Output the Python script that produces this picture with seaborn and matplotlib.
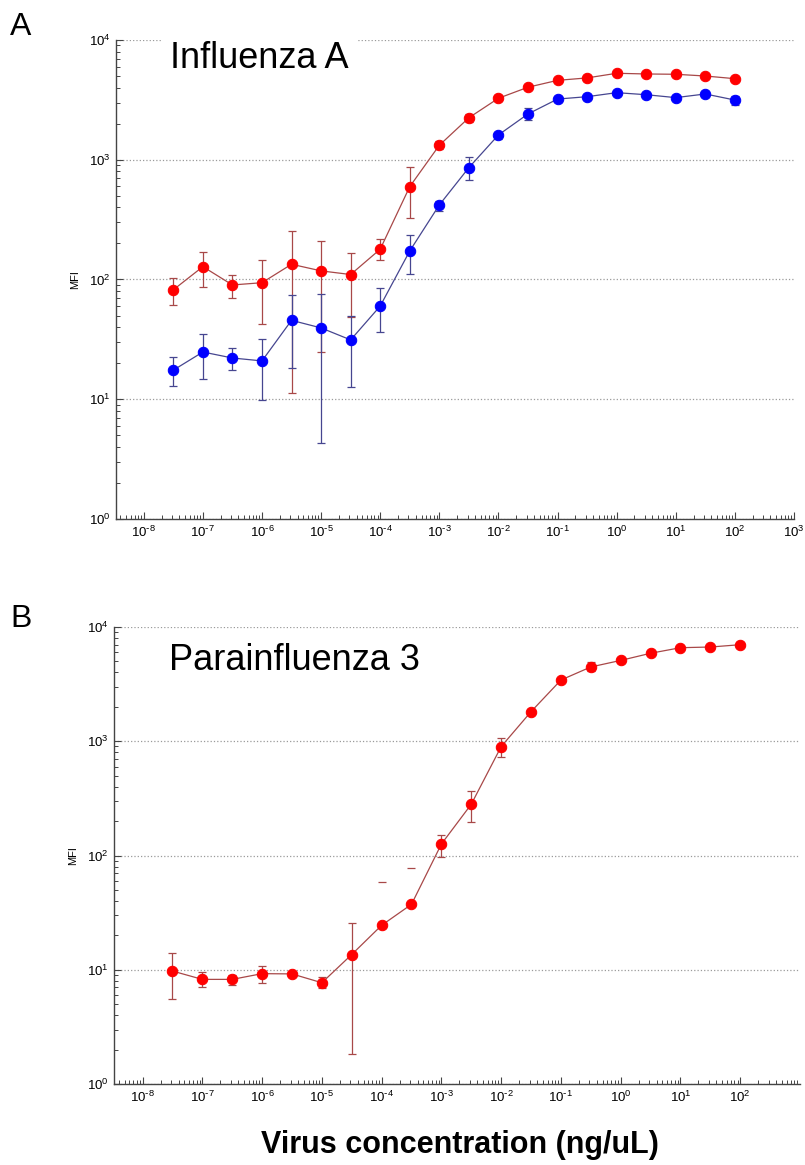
import numpy as np
import pandas as pd
import seaborn as sns
import matplotlib
matplotlib.use("Agg")
import matplotlib.pyplot as plt
from matplotlib.ticker import LogLocator, NullFormatter, FuncFormatter

# dilution series, half-decade steps (ng/uL)
conc = [3.16e-8, 1e-7, 3.16e-7, 1e-6, 3.16e-6, 1e-5, 3.16e-5, 1e-4, 3.16e-4, 1e-3,
        3.16e-3, 1e-2, 3.16e-2, 1e-1, 3.16e-1, 1e0, 3.16e0, 1e1, 3.16e1, 1e2]

# Panel A - Influenza A, red series
flu_red = [82, 128, 90, 94, 134, 118, 110, 179, 596, 1320,
           2240, 3260, 4030, 4600, 4820, 5270, 5200, 5170, 5000, 4750]
flu_red_hi = [102, 169, 110, 146, 254, 209, 167, 217, 865, 1420,
              2420, 3450, 4200, 4800, 5080, 5450, 5380, 5350, 5200, 4950]
flu_red_lo = [61, 87, 70, 42.5, 11.2, 25, 49, 146, 328, 1220,
              2080, 3080, 3870, 4400, 4560, 5090, 5020, 4990, 4800, 4560]

# Panel A - Influenza A, blue series
flu_blue = [17.5, 24.8, 22.1, 20.9, 45.6, 39.4, 31.3, 60, 173, 419,
            859, 1610, 2410, 3210, 3360, 3630, 3490, 3300, 3540, 3150]
flu_blue_hi = [22.4, 34.8, 26.9, 31.6, 74.3, 75, 49.9, 84.4, 234, 455,
               1047, 1720, 2720, 3400, 3560, 3800, 3650, 3450, 3780, 3430]
flu_blue_lo = [12.9, 14.7, 17.5, 9.8, 18.1, 4.3, 12.6, 36.5, 111, 373,
               673, 1500, 2130, 3030, 3170, 3470, 3340, 3150, 3310, 2850]

# Panel B - Parainfluenza 3
para = [9.75, 8.24, 8.24, 9.25, 9.2, 7.7, 13.6, 24.5, 37.4, 126,
        281, 898, 1815, 3435, 4470, 5100, 5890, 6590, 6680, 7000]
para_hi = [13.9, 9.6, 9.0, 10.8, 9.5, 8.7, 25.5, 25.6, 38.6, 152,
           369, 1062, 1920, 3600, 4900, 5350, 6150, 6850, 6950, 7350]
para_lo = [5.5, 7.0, 7.4, 7.7, 8.9, 6.9, 1.84, 23.4, 36.2, 98,
           196, 728, 1720, 3280, 4080, 4860, 5650, 6340, 6420, 6650]
# stray upper caps without visible bar (at 1e-4 and 3.16e-4)
para_cap_x = [1e-4, 3.16e-4]
para_cap_y = [24.5, 37.4]
para_cap_hi = [58.6, 77.6]

RED_MK, RED_LN = "#ff0000", "#a84848"
BLUE_MK, BLUE_LN = "#0000ff", "#464690"

sns.set_style("white")
plt.rcParams["font.family"] = ["Liberation Sans", "DejaVu Sans"]
plt.rcParams["mathtext.default"] = "regular"
plt.rcParams["axes.unicode_minus"] = False
plt.rcParams["text.color"] = "black"
plt.rcParams["axes.labelcolor"] = "black"
plt.rcParams["xtick.color"] = "black"
plt.rcParams["ytick.color"] = "black"

fig = plt.figure(figsize=(8.05, 11.65), dpi=100)
ax_a = fig.add_axes([0.1441, 0.5545, 0.8422, 0.4112])
ax_b = fig.add_axes([0.1422, 0.0695, 0.8516, 0.3923])


def decade_label(v, pos):
    # matlab-style label: 10 with a small hyphen exponent
    k = int(round(np.log10(v)))
    if k < 0:
        return r"$10^{\text{-}%d}$" % (-k)
    return r"$10^{%d}$" % k


def draw_series(ax, y, lo, hi, mk, ln):
    y = np.array(y)
    err = [y - np.array(lo), np.array(hi) - y]
    ax.errorbar(conc, y, yerr=err, fmt="none", ecolor=ln, elinewidth=0.9,
                capsize=3, capthick=0.9, zorder=2)
    df = pd.DataFrame({"conc": conc, "mfi": y})
    sns.lineplot(data=df, x="conc", y="mfi", ax=ax, color=ln, linewidth=0.9,
                 marker="o", markersize=7.5, markerfacecolor=mk,
                 markeredgecolor=mk, estimator=None, errorbar=None,
                 sort=False, zorder=3)


def style_axes(ax, title, title_y, show_last=True):
    ax.set_xscale("log")
    ax.set_yscale("log")
    ax.set_xlim(10 ** -8.47, 1e3)
    ax.set_ylim(1, 1e4)
    for s in ["top", "right"]:
        ax.spines[s].set_visible(False)
    for s in ["left", "bottom"]:
        ax.spines[s].set_color("#444444")
        ax.spines[s].set_linewidth(1.0)
    ax.xaxis.set_major_locator(LogLocator(base=10, numticks=20))
    ax.xaxis.set_minor_locator(LogLocator(base=10, subs=np.arange(2, 10), numticks=20))
    ax.yaxis.set_major_locator(LogLocator(base=10, numticks=10))
    ax.yaxis.set_minor_locator(LogLocator(base=10, subs=np.arange(2, 10), numticks=10))
    ax.xaxis.set_major_formatter(FuncFormatter(decade_label))
    ax.yaxis.set_major_formatter(FuncFormatter(decade_label))
    ax.xaxis.set_minor_formatter(NullFormatter())
    ax.yaxis.set_minor_formatter(NullFormatter())
    ax.tick_params(which="both", direction="in", color="#444444",
                   labelsize=9.5, labelcolor="black", bottom=True, left=True)
    ax.tick_params(which="major", length=5, width=0.8, pad=4)
    ax.tick_params(which="minor", length=3, width=0.7)
    if not show_last:
        ax.set_xticks([10.0 ** k for k in range(-8, 3)])
    ax.grid(False)
    ax.yaxis.grid(True, which="major", linestyle=":", color="#9a9a9a", linewidth=0.9)
    ax.set_xlabel("")
    ax.set_ylabel("MFI", fontsize=8, color="black")
    ax.yaxis.set_label_coords(-0.053, 0.5)
    ax.text(0.08, title_y, title, transform=ax.transAxes, fontsize=26,
            va="baseline", ha="left", color="black",
            bbox=dict(facecolor="white", edgecolor="none", pad=6), zorder=5)


draw_series(ax_a, flu_red, flu_red_lo, flu_red_hi, RED_MK, RED_LN)
draw_series(ax_a, flu_blue, flu_blue_lo, flu_blue_hi, BLUE_MK, BLUE_LN)
style_axes(ax_a, "Influenza A", 0.942)

draw_series(ax_b, para, para_lo, para_hi, RED_MK, RED_LN)
cap_y = np.array(para_cap_y)
ax_b.errorbar(para_cap_x, cap_y, yerr=[np.zeros(2), np.array(para_cap_hi) - cap_y],
              fmt="none", ecolor=RED_LN, elinewidth=0, capsize=3, capthick=0.9,
              zorder=1)
style_axes(ax_b, "Parainfluenza 3", 0.906, show_last=False)
ax_b.set_xlim(10 ** -8.47, 1e3)

fig.text(0.0124, 0.970, "A", fontsize=23, va="baseline", ha="left")
fig.text(0.0124, 0.462, "B", fontsize=23, va="baseline", ha="left")
fig.text(0.571, 0.0103, "Virus concentration (ng/uL)", fontsize=22,
         fontweight="bold", ha="center", va="baseline")

fig.savefig("out.png", dpi=100)
